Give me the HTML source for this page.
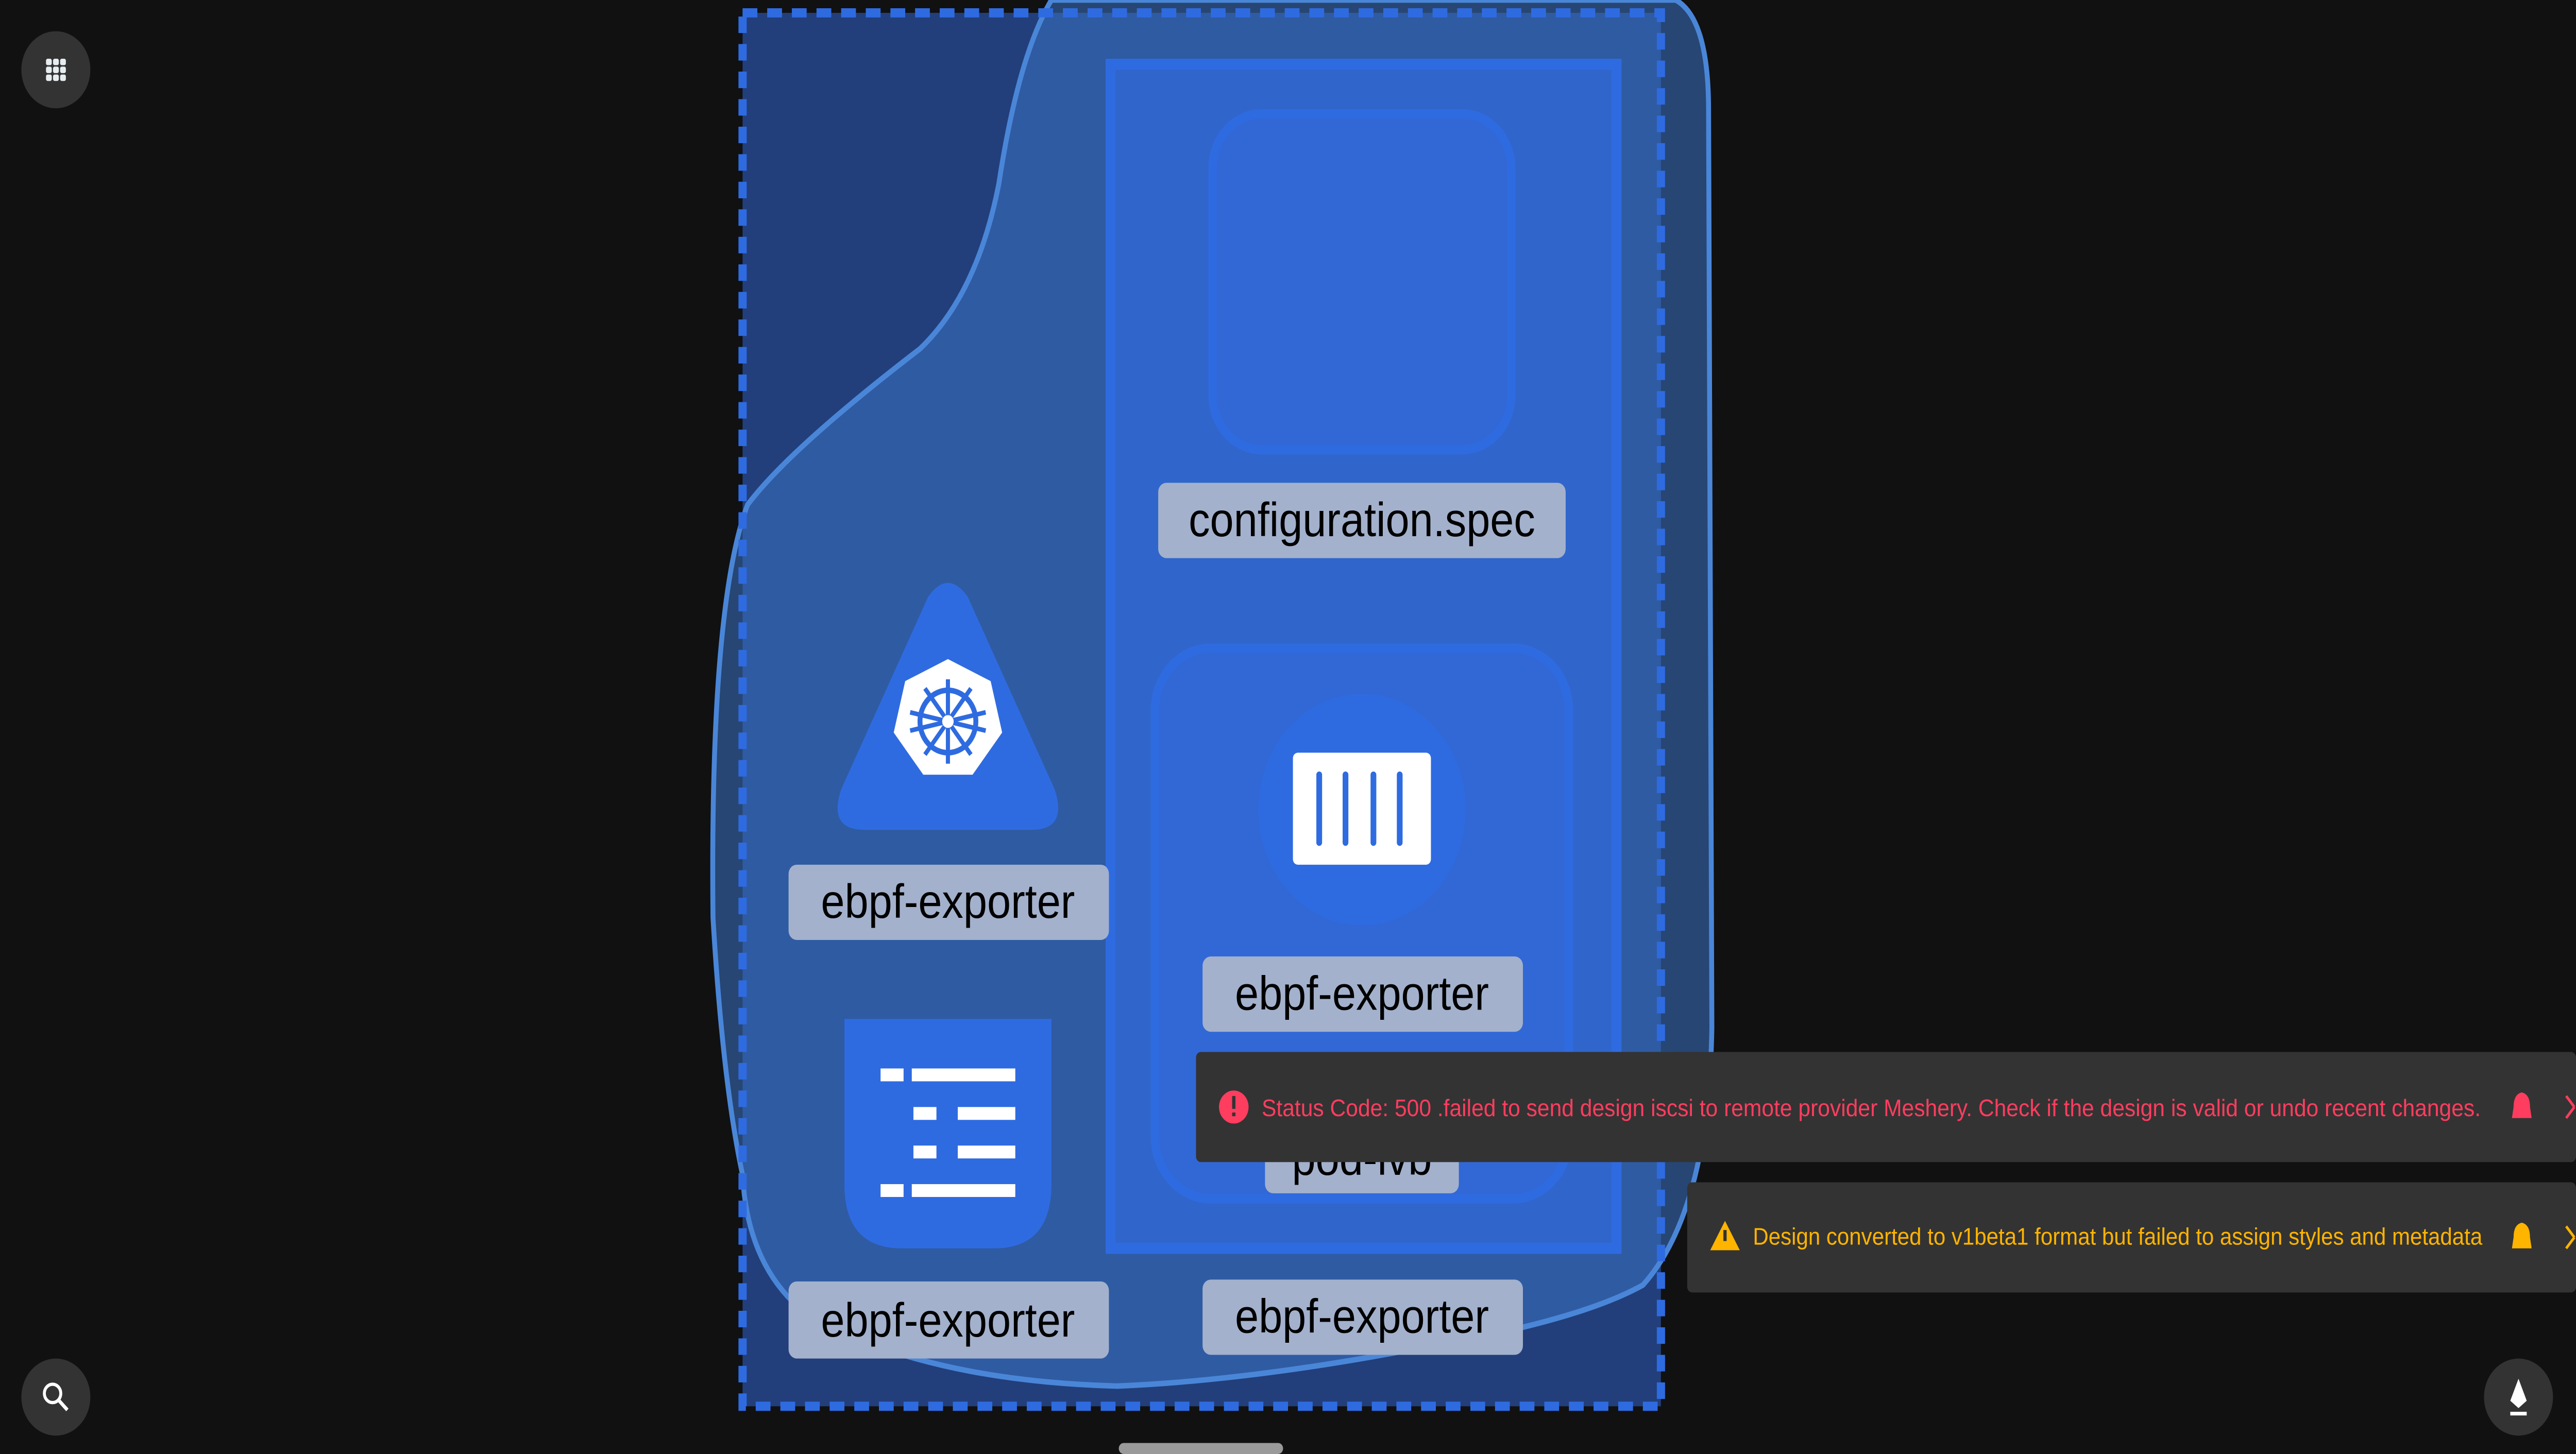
<!DOCTYPE html>
<html><head><meta charset="utf-8"><style>
html,body{margin:0;padding:0;background:#111;overflow:hidden;width:100%;height:100%}
svg{display:block;position:fixed;left:0;top:0;width:100vw;height:100vh}
text{font-family:"Liberation Sans",sans-serif}
</style></head><body>
<svg viewBox="0 0 1568 792" preserveAspectRatio="none" xmlns="http://www.w3.org/2000/svg">
<defs><clipPath id="c"><rect x="0" y="0" width="1568" height="792"/></clipPath></defs>
<g clip-path="url(#c)">
<rect x="0" y="0" width="1568" height="792" fill="#111"/>
<rect x="452" y="7" width="559" height="759" fill="#223f7b"/>
<path d="M640,0 L1020,0 Q1040,10 1040,60 L1042,560 Q1040,660 1000,700 Q960,720 860,735 Q760,752 680,755 Q560,752 490,715 Q455,690 452,640 Q440,590 434,500 Q432,330 455,275 Q480,245 560,190 Q595,160 608,100 Q620,30 640,0 Z" fill="#3a72c4" fill-opacity="0.55" stroke="#4a86d8" stroke-width="3"/>
<rect x="452" y="7" width="559" height="759" fill="none" stroke="#2f6be0" stroke-width="5" stroke-dasharray="9,6"/>
<rect x="676" y="35" width="308" height="645" fill="#3066cc" stroke="#2f6be0" stroke-width="6"/>
<rect x="738" y="62" width="182" height="183" rx="30" fill="#3168d6" stroke="#2f6be0" stroke-width="5"/>
<rect x="703" y="353" width="252" height="300" rx="34" fill="#3168d6" stroke="#2f6be0" stroke-width="5"/>
<circle cx="829" cy="441" r="63" fill="#2f6be0"/>
<rect x="787" y="410" width="84" height="61" rx="3" fill="#fff"/>
<g stroke="#2f6be0" stroke-width="3.5" stroke-linecap="round">
<line x1="803" y1="422" x2="803" y2="459"/><line x1="819" y1="422" x2="819" y2="459"/><line x1="836" y1="422" x2="836" y2="459"/><line x1="852" y1="422" x2="852" y2="459"/>
</g>
<g fill="#a3b1cc">
<rect x="705" y="263" width="248" height="41" rx="5"/>
<rect x="732" y="521" width="195" height="41" rx="5"/>
<rect x="770" y="608" width="118" height="42" rx="5"/>
<rect x="480" y="471" width="195" height="41" rx="5"/>
<rect x="480" y="698" width="195" height="42" rx="5"/>
<rect x="732" y="697" width="195" height="41" rx="5"/>
</g>
<g font-size="26" fill="#000" text-anchor="middle">
<text x="829" y="292">configuration.spec</text>
<text x="829" y="550">ebpf-exporter</text>
<text x="829" y="640">pod-lvb</text>
<text x="577" y="500">ebpf-exporter</text>
<text x="577" y="728">ebpf-exporter</text>
<text x="829" y="726">ebpf-exporter</text>
</g>
<path d="M565,325 Q577,310 589,325 L642,430 Q650,452 628,452 L526,452 Q504,452 512,430 Z" fill="#2f6be0"/>
<path d="M577,359 L603,371 L610,399 L592,422 L562,422 L544,399 L551,371 Z" fill="#fff"/>
<circle cx="577" cy="393" r="17" fill="none" stroke="#2f6be0" stroke-width="3"/>
<g stroke="#2f6be0" stroke-width="2.5">
<line x1="577" y1="370" x2="577" y2="416"/><line x1="554" y1="388" x2="600" y2="398"/><line x1="600" y1="388" x2="554" y2="398"/><line x1="563" y1="411" x2="591" y2="375"/><line x1="591" y1="411" x2="563" y2="375"/>
</g>
<circle cx="577" cy="393" r="3.5" fill="#fff"/>
<path d="M514,555 L640,555 L640,645 Q640,680 605,680 L549,680 Q514,680 514,645 Z" fill="#2f6be0"/>
<g fill="#fff">
<rect x="536" y="582" width="14" height="7"/><rect x="555" y="582" width="63" height="7"/>
<rect x="556" y="603" width="14" height="7"/><rect x="583" y="603" width="35" height="7"/>
<rect x="556" y="624" width="14" height="7"/><rect x="583" y="624" width="35" height="7"/>
<rect x="536" y="645" width="14" height="7"/><rect x="555" y="645" width="63" height="7"/>
</g>
<rect x="728" y="573" width="840" height="60" rx="3" fill="#333"/>
<circle cx="751" cy="603" r="9" fill="#ff3d5f"/>
<rect x="750" y="597" width="2" height="7" fill="#333"/><rect x="750" y="606" width="2" height="2" fill="#333"/>
<text x="768" y="608" font-size="13" fill="#ff3d5f" textLength="742" lengthAdjust="spacingAndGlyphs">Status Code: 500 .failed to send design iscsi to remote provider Meshery. Check if the design is valid or undo recent changes.</text>
<path d="M1535,595 Q1530,596 1530,603 L1529,609 L1541,609 L1540,603 Q1540,596 1535,595 Z" fill="#ff3d5f"/>
<path d="M1562,597 L1567,603 M1562,609 L1567,603" stroke="#ff3d5f" stroke-width="1.5" fill="none"/>
<rect x="1027" y="644" width="541" height="60" rx="3" fill="#333"/>
<path d="M1050,665 L1059,681 L1041,681 Z" fill="#ffb400"/>
<rect x="1049" y="670" width="2" height="6" fill="#333"/>
<text x="1067" y="678" font-size="13" fill="#ffb400" textLength="444" lengthAdjust="spacingAndGlyphs">Design converted to v1beta1 format but failed to assign styles and metadata</text>
<path d="M1535,666 Q1530,667 1530,674 L1529,680 L1541,680 L1540,674 Q1540,667 1535,666 Z" fill="#ffb400"/>
<path d="M1562,668 L1567,674 M1562,680 L1567,674" stroke="#ffb400" stroke-width="1.5" fill="none"/>
<circle cx="34" cy="38" r="21" fill="#333"/>
<g fill="#e6edf1">
<rect x="28" y="32" width="3.5" height="3.5" rx="1"/><rect x="32.3" y="32" width="3.5" height="3.5" rx="1"/><rect x="36.6" y="32" width="3.5" height="3.5" rx="1"/>
<rect x="28" y="36.3" width="3.5" height="3.5" rx="1"/><rect x="32.3" y="36.3" width="3.5" height="3.5" rx="1"/><rect x="36.6" y="36.3" width="3.5" height="3.5" rx="1"/>
<rect x="28" y="40.6" width="3.5" height="3.5" rx="1"/><rect x="32.3" y="40.6" width="3.5" height="3.5" rx="1"/><rect x="36.6" y="40.6" width="3.5" height="3.5" rx="1"/>
</g>
<circle cx="34" cy="761" r="21" fill="#333"/>
<circle cx="32" cy="759" r="5" fill="none" stroke="#fff" stroke-width="1.8"/>
<line x1="36" y1="763" x2="41" y2="768" stroke="#fff" stroke-width="2"/>
<circle cx="1533" cy="761" r="21" fill="#333"/>
<path d="M1533,751 L1538,763 L1533,767 L1528,763 Z" fill="#fff"/>
<rect x="1528" y="769" width="10" height="2" fill="#fff"/>
<rect x="681" y="786" width="100" height="6" rx="3" fill="#9a9a9a"/>
</g>
</svg>
</body></html>
